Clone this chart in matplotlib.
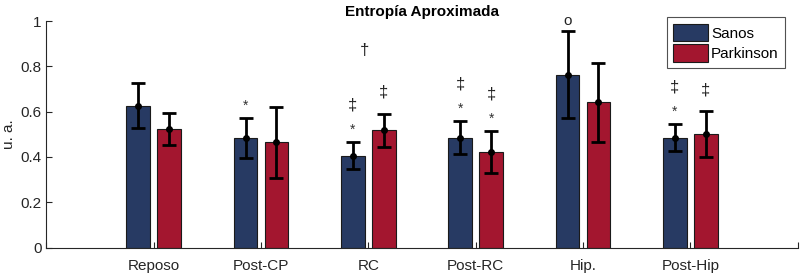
import numpy as np
import matplotlib.pyplot as plt

plt.rcParams['font.family'] = ['Liberation Sans', 'DejaVu Sans']

categorias = ['Reposo', 'Post-CP', 'RC', 'Post-RC', 'Hip.', 'Post-Hip']
sanos = [0.627, 0.484, 0.405, 0.486, 0.764, 0.486]
sanos_err = [0.101, 0.089, 0.059, 0.072, 0.192, 0.058]
parkinson = [0.523, 0.464, 0.518, 0.421, 0.641, 0.501]
parkinson_err = [0.072, 0.157, 0.074, 0.093, 0.176, 0.100]

# marcas de significancia por barra
marcas_sanos = [[], ['*'], ['*', '‡'], ['*', '‡'], ['o'], ['*', '‡']]
marcas_park = [[], [], ['‡'], ['*', '‡'], [], ['‡']]
marcas_grupo = ['', '', '†', '', '', '']

azul = '#273a63'
rojo = '#a3162f'

fig, ax = plt.subplots(figsize=(8, 2.75), dpi=100)
fig.subplots_adjust(left=0.058, right=0.997, top=0.923, bottom=0.10)

x = np.arange(1, len(categorias) + 1)
d = 0.144
w = 0.222
ax.bar(x - d, sanos, w, color=azul, edgecolor='#1a1a1a', linewidth=0.8, label='Sanos', zorder=2)
ax.bar(x + d, parkinson, w, color=rojo, edgecolor='#1a1a1a', linewidth=0.8, label='Parkinson', zorder=2)
ax.errorbar(x - d, sanos, yerr=sanos_err, fmt='o', color='k', ms=4, elinewidth=2,
            capsize=4.8, capthick=2, zorder=3)
ax.errorbar(x + d, parkinson, yerr=parkinson_err, fmt='o', color='k', ms=4, elinewidth=2,
            capsize=4.8, capthick=2, zorder=3)


def poner_marcas(xs, vals, errs, marcas):
    for xi, v, e, m in zip(xs, vals, errs, marcas):
        top = v + e
        for k, s in enumerate(m):
            if s == 'o':
                ax.text(xi, top + 0.045, s, ha='center', va='center', fontsize=11, color='#222222')
            elif s == '*':
                ax.text(xi, top + 0.055, s, ha='center', va='center', fontsize=10, color='#333333')
            else:
                off = 0.165 if len(m) > 1 else 0.095
                ax.text(xi, top + off, s, ha='center', va='center', fontsize=12, color='#222222')


poner_marcas(x - d, sanos, sanos_err, marcas_sanos)
poner_marcas(x + d, parkinson, parkinson_err, marcas_park)
for xi, s, a, b, ea, eb in zip(x, marcas_grupo, sanos, parkinson, sanos_err, parkinson_err):
    if s:
        ax.text(xi - 0.04, max(a + ea, b + eb) + 0.28, s, ha='center', va='center',
                fontsize=12, color='#222222')

ax.set_xlim(0, 7)
ax.set_ylim(0, 1)
ax.set_xticks(np.arange(0, 8))
ax.set_xticklabels([''] + categorias + [''])
ax.set_yticks([0, 0.2, 0.4, 0.6, 0.8, 1])
ax.set_yticklabels(['0', '0.2', '0.4', '0.6', '0.8', '1'])
ax.tick_params(direction='in', length=4, width=0.8, labelsize=11, colors='#262626')
ax.tick_params(axis='x', pad=8)
ax.spines['top'].set_visible(False)
ax.spines['right'].set_visible(False)
for s in ['left', 'bottom']:
    ax.spines[s].set_color('#262626')
    ax.spines[s].set_linewidth(0.8)

ax.set_ylabel('u. a.', fontsize=11, color='#262626', labelpad=3)
ax.set_title('Entropía Aproximada', fontsize=11, fontweight='bold', pad=4)

leg = ax.legend(loc='upper right', bbox_to_anchor=(0.993, 1.05), fontsize=11, frameon=True,
                fancybox=False, edgecolor='#262626', handlelength=2.3, handleheight=1.4,
                borderpad=0.4, labelspacing=0.2, handletextpad=0.2)
leg.get_frame().set_linewidth(0.8)

fig.savefig('out.png', dpi=100)
